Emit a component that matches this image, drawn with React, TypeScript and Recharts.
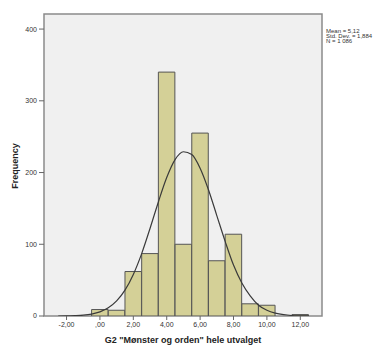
import { ComposedChart, Bar, Line, XAxis, YAxis, CartesianGrid, ReferenceArea } from "recharts"

// histogram bins (bin centre) and counts
const binCenters = [0, 1, 2, 3, 4, 5, 6, 7, 8, 9, 10, 12]
const binCounts = [9, 8, 62, 87, 340, 100, 255, 77, 114, 17, 15, 2]

// normal curve
const curveX = [-2.5, -2, -1.5, -1, -0.5, 0, 0.5, 1, 1.5, 2, 2.5, 3, 3.5, 4, 4.5, 5, 5.5, 6, 6.5, 7, 7.5, 8, 8.5, 9, 9.5, 10, 10.5, 11, 11.5, 12, 12.5]
const curveY = [0, 0.1, 0.5, 1.2, 2.7, 5.7, 11.4, 21, 36, 58, 87, 122, 159, 193, 218, 229, 225, 206, 176, 140, 104, 71, 46, 28, 15, 8, 4, 1.8, 0.7, 0.3, 0.1]

const xTicks = [-2, 0, 2, 4, 6, 8, 10, 12]
const yTicks = [0, 100, 200, 300, 400]
const statLines = ["Mean = 5,12", "Std. Dev. = 1,884", "N = 1 086"]

const X_MIN = -3.35
const X_MAX = 13.3
const Y_MAX = 421

const font = "'Liberation Sans', Arial, sans-serif"

const fmt = (v: number) => {
  const s = v.toFixed(2).replace(".", ",")
  return s.startsWith("0,") ? s.slice(1) : s
}

export default function App() {
  const bars = binCenters.map((x, i) => ({ x, count: binCounts[i] }))
  const curve = curveX.map((x, i) => ({ x, y: curveY[i] }))

  return (
    <div style={{ position: "fixed", left: 0, top: 0, width: 384, height: 347, background: "#fff", fontFamily: font }}>
      <ComposedChart
        width={384}
        height={347}
        data={bars}
        margin={{ top: 14, right: 62, left: 0, bottom: 0 }}
      >
        <CartesianGrid fill="#f0f0f0" horizontal={false} vertical={false} />
        <XAxis
          dataKey="x"
          type="number"
          domain={[X_MIN, X_MAX]}
          ticks={xTicks}
          tickFormatter={fmt}
          allowDataOverflow
          axisLine={false}
          tickLine={{ stroke: "#666" }}
          tickSize={4}
          height={31}
          tick={{ fontSize: 7, fill: "#333", fontFamily: font }}
        />
        {/* separate hidden axis for the curve so the bar width stays one bin */}
        <XAxis xAxisId="curve" dataKey="x" type="number" domain={[X_MIN, X_MAX]} allowDataOverflow hide />
        <YAxis
          type="number"
          domain={[0, Y_MAX]}
          ticks={yTicks}
          allowDataOverflow
          axisLine={false}
          tickLine={{ stroke: "#666" }}
          tickSize={5}
          width={44}
          tick={{ fontSize: 7, fill: "#333", fontFamily: font }}
        />
        <Bar
          dataKey="count"
          fill="#d4d097"
          stroke="#555"
          strokeWidth={1}
          barSize={16.5}
          isAnimationActive={false}
        />
        <Line
          xAxisId="curve"
          data={curve}
          dataKey="y"
          type="monotone"
          stroke="#3a3a3a"
          strokeWidth={1.2}
          dot={false}
          activeDot={false}
          isAnimationActive={false}
        />
        <ReferenceArea
          x1={X_MIN}
          x2={X_MAX}
          y1={0}
          y2={Y_MAX}
          fill="none"
          stroke="#8a8a8a"
          strokeWidth={1.5}
          ifOverflow="visible"
        />
      </ComposedChart>
      <div
        style={{
          position: "absolute",
          left: 15,
          top: 166,
          transform: "translate(-50%, -50%) rotate(-90deg)",
          fontSize: 9,
          fontWeight: "bold",
          color: "#222",
          whiteSpace: "nowrap",
        }}
      >
        Frequency
      </div>
      <div
        style={{
          position: "absolute",
          left: 183,
          top: 340,
          transform: "translate(-50%, -50%)",
          fontSize: 9,
          fontWeight: "bold",
          color: "#222",
          whiteSpace: "nowrap",
        }}
      >
        G2 "Mønster og orden" hele utvalget
      </div>
      <div style={{ position: "absolute", left: 326, top: 29, fontSize: 6, lineHeight: "5px", color: "#333" }}>
        {statLines.map((t) => (
          <div key={t} style={{ whiteSpace: "nowrap" }}>{t}</div>
        ))}
      </div>
    </div>
  )
}
